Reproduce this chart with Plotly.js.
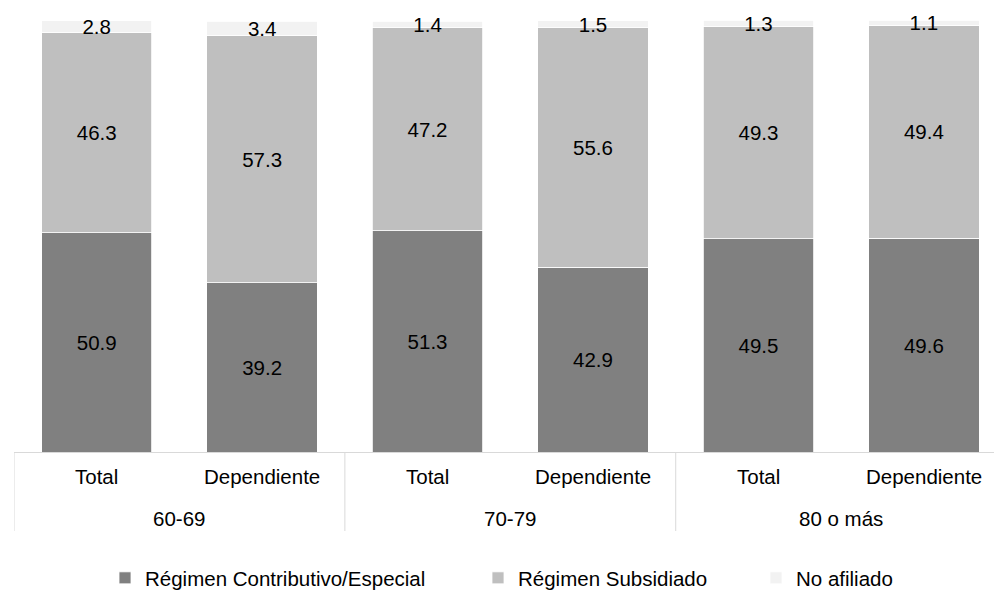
<!DOCTYPE html>
<html>
<head>
<meta charset="utf-8">
<script src="https://cdn.plot.ly/plotly-3.0.1.min.js"></script>
<style>html,body{margin:0;padding:0;background:#fff;overflow:hidden}#chart{width:994px;height:591px}</style>
</head>
<body>
<div id="chart"></div>
<script>
const groups = ["60-69", "60-69", "70-79", "70-79", "80 o más", "80 o más"];
const subcats = ["Total", "Dependiente", "Total", "Dependiente", "Total", "Dependiente"];
const groupLabels = ["60-69", "70-79", "80 o más"];
const contributivo = [50.9, 39.2, 51.3, 42.9, 49.5, 49.6];
const subsidiado = [46.3, 57.3, 47.2, 55.6, 49.3, 49.4];
const noAfiliado = [2.8, 3.4, 1.4, 1.5, 1.3, 1.1];
const seriesNames = ["Régimen Contributivo/Especial", "Régimen Subsidiado", "No afiliado"];
const colors = ["#808080", "#bfbfbf", "#f2f2f2"];

const FAM = "Liberation Sans, Arial, sans-serif";
const FS = 20.5;
const vals = [contributivo, subsidiado, noAfiliado];
const legendIds = ["legend", "legend2", "legend3"];
const traces = vals.map((v, i) => ({
  type: "bar",
  name: seriesNames[i],
  legend: legendIds[i],
  x: [groups, subcats],
  y: v,
  text: v.map(d => d.toFixed(1)),
  textposition: "inside",
  insidetextanchor: "middle",
  constraintext: "none",
  textangle: 0,
  cliponaxis: false,
  textfont: {family: FAM, size: FS, color: "#000"},
  marker: {color: colors[i], line: {color: "#ffffff", width: 0.8}},
  hoverinfo: "none"
}));

// category-level and group-level axis labels
const annotations = [];
subcats.forEach((s, i) => annotations.push({
  x: i, xref: "x", y: 0, yref: "paper", yanchor: "middle", yshift: -24,
  text: s, showarrow: false, font: {family: FAM, size: FS, color: "#000"}
}));
groupLabels.forEach((g, j) => annotations.push({
  x: 2 * j + 0.5, xref: "x", y: 0, yref: "paper", yanchor: "middle", yshift: -66,
  text: g, showarrow: false, font: {family: FAM, size: FS, color: "#000"}
}));
const YMAX = 100.2;
const plotH = 431 * YMAX / 100;
const shapes = [-0.5, 1.5, 3.5, 5.5].map(xv => ({
  type: "line", xref: "x", yref: "paper", x0: xv, x1: xv, y0: 0, y1: -79 / plotH,
  line: {color: "#d9d9d9", width: 1}
}));

const legendBase = {orientation: "h", xanchor: "left", yanchor: "middle", xref: "container", yref: "container",
  y: 1 - 578 / 591, font: {family: FAM, size: FS, color: "#000"}, bgcolor: "rgba(0,0,0,0)", itemwidth: 30};
const legendTextX = [147, 520, 798];

const layout = {
  width: 994, height: 591,
  barmode: "stack",
  bargap: 0.333,
  margin: {l: 13.5, r: 0, t: 452 - plotH, b: 139, autoexpand: false},
  paper_bgcolor: "#fff", plot_bgcolor: "#fff",
  font: {family: FAM, size: FS, color: "#000"},
  showlegend: true,
  legend: Object.assign({}, legendBase, {x: (legendTextX[0] - 42) / 994}),
  legend2: Object.assign({}, legendBase, {x: (legendTextX[1] - 42) / 994}),
  legend3: Object.assign({}, legendBase, {x: (legendTextX[2] - 42) / 994}),
  xaxis: {
    type: "multicategory",
    range: [-0.5, 5.424],
    showline: true, linecolor: "#d9d9d9", linewidth: 1,
    showdividers: false, showticklabels: false,
    ticks: "", showgrid: false, automargin: false
  },
  yaxis: {range: [0, YMAX], visible: false, showgrid: false, zeroline: false},
  annotations: annotations,
  shapes: shapes
};

Plotly.newPlot("chart", traces, layout, {displayModeBar: false, staticPlot: true});
</script>
</body>
</html>
